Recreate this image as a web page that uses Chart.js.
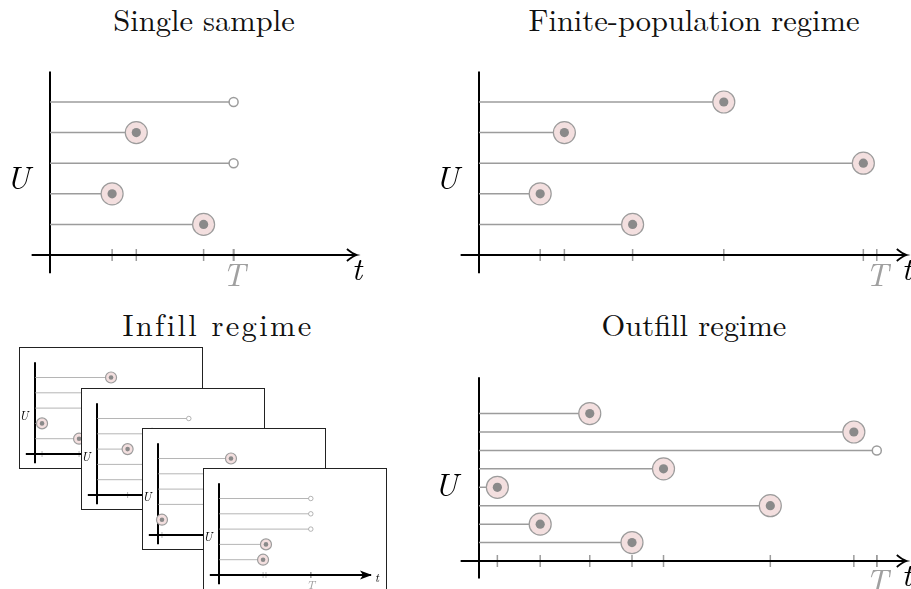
<!DOCTYPE html>
<html>
<head>
<meta charset="utf-8">
<script src="https://cdn.jsdelivr.net/npm/chart.js@4.4.1/dist/chart.umd.min.js"></script>
<style>
  body { margin: 0; width: 911px; height: 589px; overflow: hidden; background: #fff; position: relative; font-family: "Latin Modern Roman", "Liberation Serif", serif; }
  .title { position: absolute; font-size: 30.5px; line-height: 30px; white-space: nowrap; transform: translateX(-50%); color: #111; }
  .box { position: absolute; width: 182px; height: 120px; background: #fff; border: 1px solid #222; }
  canvas { position: absolute; }
</style>
</head>
<body>
<div class="title" style="left:204px; top:4px;">Single sample</div>
<div class="title" style="left:694px; top:4px;">Finite-population regime</div>
<div class="title" style="left:218px; top:309px; letter-spacing:2.3px;">Infill regime</div>
<div class="title" style="left:694px; top:309px;">Outfill regime</div>

<canvas id="single" width="410" height="250" style="left:0; top:50px;"></canvas>
<canvas id="finite" width="491" height="250" style="left:420px; top:50px;"></canvas>
<canvas id="outfill" width="491" height="229" style="left:420px; top:360px;"></canvas>

<div class="box" style="left:19px; top:347px;"><canvas id="infill0" width="182" height="120" style="left:0; top:0;"></canvas></div>
<div class="box" style="left:81px; top:388px;"><canvas id="infill1" width="182" height="120" style="left:0; top:0;"></canvas></div>
<div class="box" style="left:142px; top:428px;"><canvas id="infill2" width="182" height="120" style="left:0; top:0;"></canvas></div>
<div class="box" style="left:203px; top:468px;"><canvas id="infill3" width="182" height="120" style="left:0; top:0;"></canvas></div>

<script>
// times listed from the top line (highest U) down to the bottom line
const singleT = 6;
const singleTimes = [6, 2.82, 6, 2.03, 5.02];
const singleObserved = [false, true, false, true, true];

const finiteT = 13;
const finiteTimes = [8.0, 2.79, 12.56, 2.0, 5.02];
const finiteObserved = [true, true, true, true, true];

const outfillT = 13;
const outfillTimes = [3.62, 12.25, 13, 6.03, 0.6, 9.52, 2.0, 5.0];
const outfillObserved = [true, true, false, true, true, true, true, true];

// infill: four repeated draws on [0, T]
const infillT = 6;
const infillTimes = [
    [4.97, 6, 4.2, 0.46, 2.88],
    [6, 3.6, 2.0, 6, 4.5],
    [4.77, 6, 3.9, 6, 0.26],
    [6, 6, 6, 3.07, 2.88]
];
const infillObserved = [
    [true, false, true, true, true],
    [false, true, true, false, true],
    [true, false, true, false, true],
    [false, false, false, true, true]
];

const LINE = '#9c9c9c';
const DOT = '#8a8a8a';
const PINK = '#f3dfdf';
const SERIF = '"Latin Modern Roman", "Liberation Serif", serif';

// axes, ticks and labels drawn from the chart's own scales
const axesPlugin = {
    id: 'axes',
    beforeDatasetsDraw(chart) {
        const p = chart.options.plugins.axes;
        const { ctx, scales: { x, y } } = chart;
        const s = p.s;
        const x0 = x.getPixelForValue(0), y0 = y.getPixelForValue(0);
        const tip = x.getPixelForValue(p.xHi);
        ctx.save();
        ctx.lineCap = 'butt';

        // tick marks at every time and at T
        ctx.strokeStyle = LINE;
        ctx.lineWidth = 1.5 * s;
        [...p.times, p.T].forEach(t => {
            const px = x.getPixelForValue(t);
            ctx.beginPath();
            ctx.moveTo(px, y0 - 6 * s);
            ctx.lineTo(px, y0 + 6 * s);
            ctx.stroke();
        });

        ctx.strokeStyle = '#000';
        ctx.lineWidth = 2;
        ctx.beginPath();
        ctx.moveTo(x0, y.getPixelForValue(p.yLo));
        ctx.lineTo(x0, y.getPixelForValue(p.yHi));
        ctx.moveTo(x.getPixelForValue(p.xLo), y0);
        ctx.lineTo(tip - 2 * s, y0);
        ctx.stroke();

        // arrow head
        if (s === 1) {
            ctx.lineWidth = 1.8;
            ctx.beginPath();
            ctx.moveTo(tip - 10, y0 - 6);
            ctx.quadraticCurveTo(tip - 4, y0 - 1, tip, y0);
            ctx.quadraticCurveTo(tip - 4, y0 + 1, tip - 10, y0 + 6);
            ctx.stroke();
        } else {
            ctx.fillStyle = '#000';
            ctx.beginPath();
            ctx.moveTo(tip, y0);
            ctx.lineTo(tip - 12, y0 - 4.5);
            ctx.lineTo(tip - 9, y0);
            ctx.lineTo(tip - 12, y0 + 4.5);
            ctx.closePath();
            ctx.fill();
        }

        // labels
        const fs = s === 1 ? 32 : 12;
        ctx.font = `italic ${fs}px ${SERIF}`;
        ctx.textBaseline = 'middle';
        ctx.textAlign = 'center';
        ctx.fillStyle = '#000';
        ctx.fillText('U', x0 + p.uDx, y0 + p.uDy);
        if (s === 1) {
            ctx.fillText('t', tip, y0 + 15);
        } else {
            ctx.textAlign = 'left';
            ctx.fillText('t', tip + 3, y0 + 3);
            ctx.textAlign = 'center';
        }
        ctx.fillStyle = '#a0a0a0';
        ctx.fillText('T', x.getPixelForValue(p.T), y0 + 21 * s);
        ctx.restore();
    }
};

function makePanel(id, times, observed, T, L) {
    const canvas = document.getElementById(id);
    const w = canvas.width, h = canvas.height;
    const n = times.length;
    const s = L.s;

    const datasets = times.map((t, i) => ({
        data: [{ x: 0, y: n - i }, { x: t, y: n - i }],
        showLine: true,
        borderColor: LINE,
        borderWidth: 1.5 * s,
        pointRadius: 0,
        order: 4
    }));
    const events = [], censored = [];
    times.forEach((t, i) => (observed[i] ? events : censored).push({ x: t, y: n - i }));
    datasets.push({ data: events, pointRadius: 11 * s, backgroundColor: PINK, borderColor: LINE, borderWidth: 1.2, order: 3 });
    datasets.push({ data: events, pointRadius: 4.6 * s, backgroundColor: DOT, borderWidth: 0, order: 2 });
    datasets.push({ data: censored, pointRadius: 4.5 * s, backgroundColor: '#fff', borderColor: LINE, borderWidth: 1.5 * s, order: 1 });

    return new Chart(canvas.getContext('2d'), {
        type: 'scatter',
        data: { datasets },
        options: {
            responsive: false,
            animation: false,
            events: [],
            layout: { padding: 0, autoPadding: false },
            clip: false,
            scales: {
                x: { type: 'linear', display: false, min: -L.ox / L.ux, max: (w - L.ox) / L.ux },
                y: { type: 'linear', display: false, min: -(h - L.oy) / L.uy, max: L.oy / L.uy }
            },
            plugins: {
                legend: { display: false },
                tooltip: { enabled: false },
                axes: { s, T, times, xLo: L.xLo, xHi: L.xHi, yLo: L.yLo, yHi: L.yHi, uDx: L.uDx, uDy: L.uDy }
            }
        },
        plugins: [axesPlugin]
    });
}

function drawAll() {
    makePanel('single', singleTimes, singleObserved, singleT,
        { s: 1, ux: 30.6, uy: 30.6, ox: 50, oy: 205, xLo: -0.6, xHi: 10.03, yLo: -0.6, yHi: 6, uDx: -32, uDy: -76 });
    makePanel('finite', finiteTimes, finiteObserved, finiteT,
        { s: 1, ux: 30.6, uy: 30.6, ox: 59, oy: 205, xLo: -0.6, xHi: 13.98, yLo: -0.6, yHi: 6, uDx: -32, uDy: -76 });
    makePanel('outfill', outfillTimes, outfillObserved, outfillT,
        { s: 1, ux: 30.6, uy: 18.43, ox: 59, oy: 201, xLo: -0.6, xHi: 13.98, yLo: -0.95, yHi: 9.97, uDx: -33, uDy: -75 });

    infillTimes.forEach((times, k) => {
        makePanel('infill' + k, times, infillObserved[k], infillT,
            { s: 0.5, ux: 15.3, uy: 15.3, ox: 15, oy: 106, xLo: -0.6, xHi: 10.0, yLo: -0.6, yHi: 6, uDx: -11, uDy: -38 });
    });
}

// make sure the italic serif face is loaded before drawing canvas text
Promise.all([
    document.fonts.load(`italic 32px ${SERIF}`),
    document.fonts.load(`italic 12px ${SERIF}`)
]).catch(() => {}).then(drawAll);
</script>
</body>
</html>
